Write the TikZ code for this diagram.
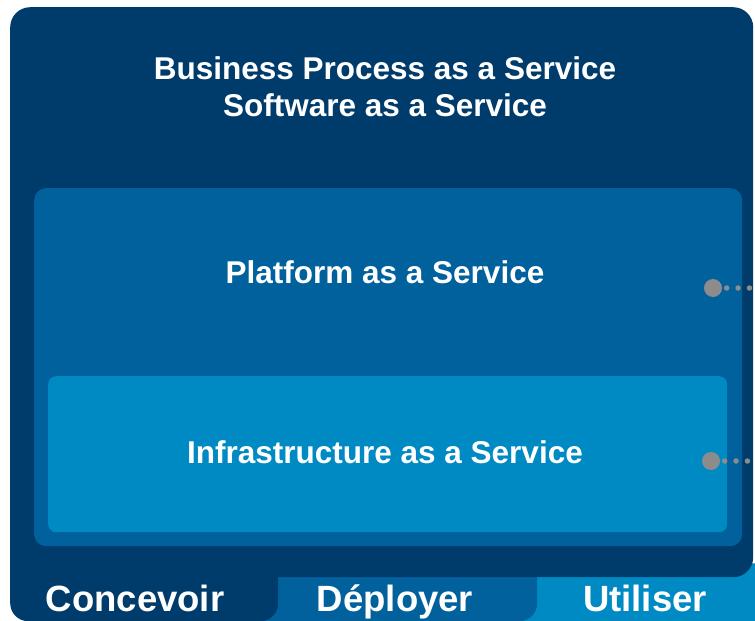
\documentclass[tikz,border=0pt]{standalone}
\usepackage{fontspec}
\setmainfont{Liberation Sans}
\usetikzlibrary{positioning}
\definecolor{darkBlue}{HTML}{003C6B}
\definecolor{midBlue}{HTML}{00619D}
\definecolor{lightBlue}{HTML}{008AC4}
\definecolor{dotGray}{HTML}{8C8C8C}
\tikzstyle{layer} = [rectangle, rounded corners=12pt, draw=none, inner sep=0pt]
\tikzstyle{tab} = [rectangle, rounded corners=18pt, draw=none, inner sep=0pt, minimum height=81pt]
\tikzstyle{title} = [text=white, font=\bfseries\fontsize{31.5}{37}\selectfont, align=center]
\tikzstyle{tabText} = [text=white, font=\bfseries\fontsize{36.5}{40}\selectfont, anchor=base]
\tikzstyle{bigDot} = [circle, fill=dotGray, minimum size=18pt, inner sep=0pt]
\tikzstyle{smallDot} = [circle, fill=dotGray, minimum size=5.5pt, inner sep=0pt]

\begin{document}
\begin{tikzpicture}[x=1pt, y=-1pt]
						\useasboundingbox (0,0) rectangle (755,621);
						% tabs along the bottom
						\node (UseTab) [tab, fill=lightBlue, anchor=north west, minimum width=260pt, minimum height=60pt] at (510,563) {};
						\node (DepTab) [tab, fill=midBlue, anchor=north west, minimum width=287pt] at (250,540) {};
						\node (DesTab) [tab, fill=darkBlue, anchor=north west, minimum width=268pt] at (10,540) {};
						% layers
						\node (SaaS) [layer, rounded corners=20pt, fill=darkBlue, anchor=north west, minimum width=743pt, minimum height=570pt] at (10,7) {};
						\node (PaaS) [layer, fill=midBlue, anchor=north west, minimum width=708pt, minimum height=358pt] at (34,188) {};
						\node (IaaS) [layer, rounded corners=8pt, fill=lightBlue, anchor=north west, minimum width=679pt, minimum height=156pt] at (48,376) {};
						\node (SaaSText) [title] at (385,87) {Business Process as a Service\\Software as a Service};
						\node (PaaSText) [title] at (385,272) {Platform as a Service};
						\node (IaaSText) [title] at (385,452) {Infrastructure as a Service};
						\node (DesText) [tabText] at (135,611) {Concevoir};
						\node (DepText) [tabText] at (395,611) {Déployer};
						\node (UseText) [tabText] at (645,611) {Utiliser};
						% connector dots
						\node (PaaSDot) [bigDot] at (713,288) {};
						\node (PaaSDotA) [smallDot, right=1.5pt of PaaSDot] {};
						\node (PaaSDotB) [smallDot, right=5.5pt of PaaSDotA] {};
						\node (PaaSDotC) [smallDot, right=5.5pt of PaaSDotB] {};
						\node (IaaSDot) [bigDot] at (711,461) {};
						\node (IaaSDotA) [smallDot, right=1.5pt of IaaSDot] {};
						\node (IaaSDotB) [smallDot, right=5.5pt of IaaSDotA] {};
						\node (IaaSDotC) [smallDot, right=5.5pt of IaaSDotB] {};
					\end{tikzpicture}
\end{document}
